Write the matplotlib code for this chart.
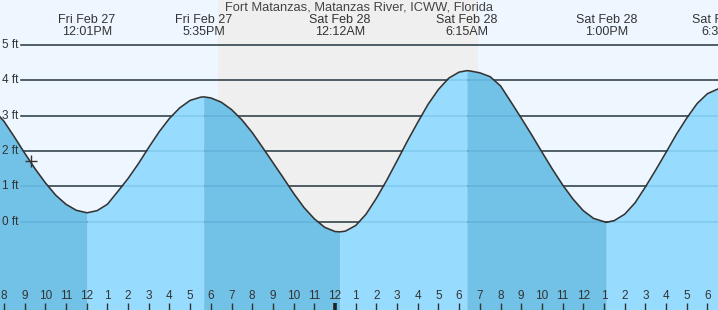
import matplotlib
matplotlib.use('Agg')
import matplotlib.pyplot as plt
import numpy as np

plt.rcParams['font.family'] = ['Liberation Sans', 'DejaVu Sans']

# hours counted from Fri Feb 27 00:00, heights in ft
times = [7.5, 8.0, 8.5, 9.0, 9.5, 10.0, 10.5, 11.0, 11.5, 12.02,
         12.5, 13.0, 13.5, 14.0, 14.5, 15.0, 15.5, 16.0, 16.5, 17.0, 17.5, 17.65,
         18.0, 18.5, 19.0, 19.5, 20.0, 20.5, 21.0, 21.5, 22.0, 22.5, 23.0, 23.5, 24.0, 24.23,
         24.5, 25.0, 25.5, 26.0, 26.5, 27.0, 27.5, 28.0, 28.5, 29.0, 29.5, 30.0, 30.37,
         30.5, 31.0, 31.5, 32.0, 32.5, 33.0, 33.5, 34.0, 34.5, 35.0, 35.5, 36.0, 36.5, 37.11,
         37.5, 38.0, 38.5, 39.0, 39.5, 40.0, 40.5, 41.0, 41.5, 42.0, 42.5, 43.0]
heights = [3.16, 2.84, 2.40, 1.94, 1.50, 1.10, 0.75, 0.49, 0.32, 0.25,
           0.31, 0.49, 0.85, 1.22, 1.64, 2.10, 2.54, 2.92, 3.22, 3.43, 3.52, 3.53,
           3.50, 3.38, 3.17, 2.88, 2.52, 2.10, 1.67, 1.24, 0.80, 0.40, 0.08, -0.16, -0.28, -0.29,
           -0.27, -0.11, 0.21, 0.66, 1.17, 1.72, 2.28, 2.81, 3.32, 3.74, 4.06, 4.23, 4.27,
           4.265, 4.21, 4.10, 3.84, 3.39, 2.93, 2.46, 1.97, 1.49, 1.04, 0.64, 0.31, 0.09, -0.02,
           0.03, 0.21, 0.53, 0.98, 1.46, 1.96, 2.47, 2.93, 3.34, 3.62, 3.75, 3.76]

extreme_times = [12.02, 17.65, 24.23, 30.37, 37.11, 42.72]
extreme_days = ['Fri Feb 27', 'Fri Feb 27', 'Sat Feb 28', 'Sat Feb 28', 'Sat Feb 28', 'Sat Feb 28']
extreme_labels = ['12:01PM', '5:35PM', '12:12AM', '6:15AM', '1:00PM', '6:38PM']
falling = [True, False, True, False, True, False, True]  # segment before each extreme

night_start, night_end = 18.36, 30.91
now_time, now_height = 9.29, 1.72
ft_levels = [0, 1, 2, 3, 4, 5]
hours = list(range(8, 43))

title = 'Fort Matanzas, Matanzas River, ICWW, Florida'

day_bg = '#eef7ff'
night_bg = '#efefef'
light_fill = '#97dcfe'
dark_fill = '#72c1e6'
ink = '#333333'

fig = plt.figure(figsize=(7.18, 3.10), dpi=100)
ax = fig.add_axes([0, 0, 1, 1])
ax.set_xlim(7.81, 42.51)
ax.set_ylim(-2.50, 6.27)
ax.axis('off')
ax.add_patch(plt.Rectangle((0, 0), 1, 1, transform=ax.transAxes, color=day_bg, zorder=0))
ax.axvspan(night_start, night_end, color=night_bg, zorder=0.5, lw=0)

for lv in ft_levels:
    ax.axhline(lv, xmin=21 / 718, color=ink, lw=1.1, zorder=1)

t = np.array(times)
h = np.array(heights)
bottom = ax.get_ylim()[0]
bounds = [t[0]] + extreme_times[:-1] + [t[-1]]
for i in range(len(bounds) - 1):
    m = (t >= bounds[i]) & (t <= bounds[i + 1])
    ax.fill_between(t[m], h[m], bottom, color=dark_fill if falling[i] else light_fill,
                    lw=0, zorder=2)

for lv in ft_levels:
    ax.axhline(lv, xmin=21 / 718, color='#1a6fa0', lw=1.1, alpha=0.18, zorder=3)

ax.plot(t, h, color=ink, lw=1.15, solid_joinstyle='round', zorder=4)
ax.plot(now_time, now_height, marker='+', ms=8, mew=1.0, color=ink, zorder=5)

for lv in ft_levels:
    ax.text(2 / 718, lv, f'{lv} ft', transform=ax.get_yaxis_transform(),
            ha='left', va='center', fontsize=8.5, color=ink, zorder=6)

xt = ax.get_xaxis_transform()
for hr in hours:
    lbl = (hr - 1) % 12 + 1
    ax.text(hr, 14 / 310, str(lbl), transform=xt, ha='center', va='center',
            fontsize=8.5, color=ink, zorder=6)
    wide = hr % 24 == 0
    ax.plot([hr, hr], [0, 7.5 / 310], transform=xt, color='#222222' if wide else ink,
            lw=2.6 if wide else 1.0, solid_capstyle='butt', zorder=6)

for et, d, lb in zip(extreme_times, extreme_days, extreme_labels):
    ax.text(et, 1 - 20 / 310, d, transform=xt, ha='center', va='center',
            fontsize=9, color=ink, zorder=6)
    ax.text(et, 1 - 32 / 310, lb, transform=xt, ha='center', va='center',
            fontsize=9, color=ink, zorder=6)

ax.text(0.5, 1 - 8 / 310, title, transform=ax.transAxes, ha='center', va='center',
        fontsize=9.3, color='#444444', zorder=6)

fig.savefig('out.png', dpi=100)
